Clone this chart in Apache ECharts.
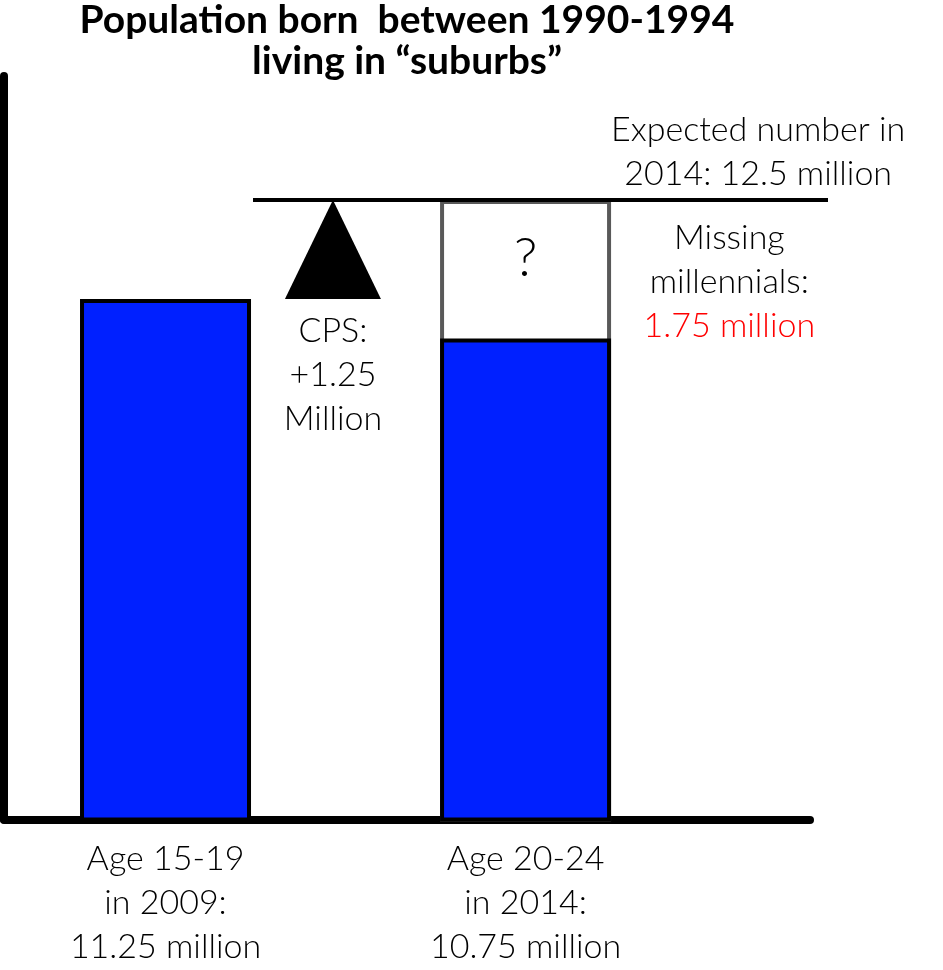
<!DOCTYPE html>
<html><head><meta charset="utf-8">
<script src="https://cdn.jsdelivr.net/npm/echarts@6/dist/echarts.min.js"></script>
<style>html,body{margin:0;padding:0;background:#fff}#c{width:943px;height:970px}</style>
</head><body><div id="c"></div>
<script>
// ---- data ----
const titleText = 'Population born  between 1990-1994\nliving in “suburbs”';
const barPositions = [1, 2];
const categoryLabels = ['Age 15-19\nin 2009:\n11.25 million', 'Age 20-24\nin 2014:\n10.75 million'];
const populationValues = [11.25, 10.75];     // million
const expectedValue = 12.5;                  // million, expected in 2014
const missingValue = 1.75;                   // million
const cpsChange = 1.25;                      // million
const expectedLabel = ['Expected number in', '2014: 12.5 million'];
const missingLabel = ['Missing', 'millennials:', '1.75 million'];
const cpsLabel = ['CPS:', '+1.25', 'Million'];

const FONT = 'Lato';
const FW = 300;
const BLUE = '#0020ff';

const chart = echarts.init(document.getElementById('c'), null, {renderer: 'canvas'});

// position of the CPS triangle between the two bars (x in axis units)
const cpsX = 1.465;

chart.setOption({
  animation: false,
  backgroundColor: '#fff',
  title: {
    text: titleText,
    left: 407, top: 0, padding: 0,
    textAlign: 'center',
    textStyle: {fontFamily: FONT, fontWeight: 'bold', fontSize: 39, lineHeight: 41, color: '#000'}
  },
  grid: {left: 4, right: 133, top: 76, bottom: 150.5, containLabel: false},
  xAxis: {
    type: 'value', min: 0.5514, max: 2.79,
    axisLine: {show: true, lineStyle: {color: '#000', width: 8}},
    axisTick: {show: false},
    splitLine: {show: false},
    axisLabel: {
      customValues: barPositions,
      formatter: function (v) { const i = barPositions.indexOf(v); return i >= 0 ? categoryLabels[i] : ''; },
      margin: 18, fontFamily: FONT, fontWeight: FW, fontSize: 34, lineHeight: 44, color: '#000', align: 'center'
    }
  },
  yAxis: {
    type: 'value', min: 4.678, max: 14.066,
    axisLine: {show: true, onZero: false, lineStyle: {color: '#000', width: 8}},
    axisTick: {show: false}, axisLabel: {show: false}, splitLine: {show: false}
  },
  series: [
    {
      name: 'Expected', type: 'bar', barWidth: 171, barGap: '-100%', z: 2,
      data: [[barPositions[1], expectedValue]],
      itemStyle: {color: '#fff', borderColor: '#595959', borderWidth: 4},
      label: {
        show: true, position: 'insideTop', distance: 32, formatter: '?',
        fontFamily: FONT, fontWeight: FW, fontSize: 54, color: '#000'
      }
    },
    {
      name: 'Population', type: 'bar', barWidth: 171, barGap: '-100%', z: 3,
      data: barPositions.map((x, i) => [x, populationValues[i]]),
      itemStyle: {color: BLUE, borderColor: '#000', borderWidth: 4},
      label: {show: false}
    },
    {
      name: 'CPS', type: 'scatter', z: 4,
      symbol: 'triangle', symbolSize: [96, 99],
      data: [[cpsX, populationValues[0] + cpsChange / 2]],
      itemStyle: {color: '#000', opacity: 1},
      label: {
        show: true, position: 'bottom', distance: 10,
        formatter: cpsLabel.join('\n'),
        fontFamily: FONT, fontWeight: FW, fontSize: 34, lineHeight: 44, color: '#000', align: 'center'
      }
    }
  ]
});

function px(x, y) { return chart.convertToPixel({gridIndex: 0}, [x, y]); }
const lineStart = px(1.243, expectedValue);
const lineEnd = px(2.84, expectedValue);
const expTextPos = px(2.646, expectedValue);
const missTextPos = px(2.566, expectedValue);

chart.setOption({
  graphic: [
    {
      type: 'line', z: 5,
      shape: {x1: lineStart[0], y1: lineStart[1], x2: lineEnd[0], y2: lineEnd[1]},
      style: {stroke: '#000', lineWidth: 4}
    },
    {
      type: 'text', z: 5, x: expTextPos[0], y: expTextPos[1] - 4,
      style: {
        text: expectedLabel.join('\n'), align: 'center', verticalAlign: 'bottom',
        fontFamily: FONT, fontWeight: FW, fontSize: 34, lineHeight: 44, fill: '#000'
      }
    },
    {
      type: 'text', z: 5, x: missTextPos[0], y: missTextPos[1] + 16,
      style: {
        text: missingLabel[0] + '\n' + missingLabel[1] + '\n{red|' + missingLabel[2] + '}',
        align: 'center', verticalAlign: 'top',
        fontFamily: FONT, fontWeight: FW, fontSize: 34, lineHeight: 44, fill: '#000',
        rich: {red: {fill: '#ff0000', fontFamily: FONT, fontWeight: FW, fontSize: 34, lineHeight: 44}}
      }
    }
  ]
});
</script>
</body></html>
